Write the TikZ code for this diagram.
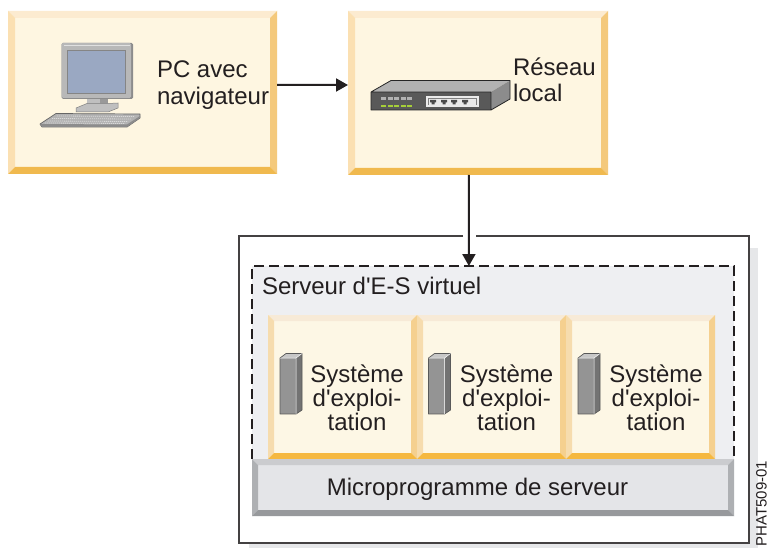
\documentclass[tikz,border=0pt]{standalone}
\usepackage{fontspec}
\setmainfont{Liberation Sans}
\usetikzlibrary{arrows.meta,calc}
\definecolor{ink}{HTML}{231F20}
\definecolor{face}{HTML}{FEF6E1}
\definecolor{ftop}{HTML}{FCEBD0}
\definecolor{fleft}{HTML}{FBE0B2}
\definecolor{fright}{HTML}{F4C97C}
\definecolor{fbot}{HTML}{F0B94E}
\definecolor{osface}{HTML}{FDF7E5}
\definecolor{ostop}{HTML}{F7EAD7}
\definecolor{osleft}{HTML}{F6DCAE}
\definecolor{osright}{HTML}{F5D08F}
\definecolor{osbot}{HTML}{F5B840}
\definecolor{mface}{HTML}{E4E5E8}
\definecolor{mtop}{HTML}{CBCCCF}
\definecolor{mleft}{HTML}{AEB0B3}
\definecolor{mbot}{HTML}{97999C}
\definecolor{viosfill}{HTML}{EEEFF2}
\definecolor{shadowgrey}{HTML}{E6E7E9}
\definecolor{screenblue}{HTML}{9AA8C2}
\definecolor{led}{HTML}{A6CE39}
\tikzset{
  x=1pt,y=-1pt,
  plain/.style={inner sep=0pt,outer sep=0pt,draw=none},
  lbl/.style={plain,text=ink,font=\fontsize{24}{24}\selectfont},
  lblb/.style={lbl,anchor=base west},
  oslbl/.style={lbl,align=center,anchor=center},
  conn/.style={draw=ink,line width=2pt,-{Triangle[length=12pt,width=13pt]}},
}
% name, x0, y0, x1, y1, bevel, face, top, left, right, bottom
\newcommand{\bevelbox}[9]{%
  \def\bA{#2}\def\bB{#3}\def\bC{#4}\def\bD{#5}\def\bE{#6}\def\bF{#7}\def\bG{#8}\def\bH{#9}\bevelboxB{#1}}
\newcommand{\bevelboxB}[3]{%
  \node[plain,fill=\bF,anchor=north west,minimum width={(\bC-\bA)*1pt},minimum height={(\bD-\bB)*1pt}] (#1) at (\bA,\bB) {};
  \fill[\bG] (\bA,\bB) -- (\bC,\bB) -- (\bC-\bE,\bB+\bE) -- (\bA+\bE,\bB+\bE) -- cycle;
  \fill[\bH] (\bA,\bB) -- (\bA+\bE,\bB+\bE) -- (\bA+\bE,\bD-\bE) -- (\bA,\bD) -- cycle;
  \fill[#2] (\bC,\bB) -- (\bC-\bE,\bB+\bE) -- (\bC-\bE,\bD-\bE) -- (\bC,\bD) -- cycle;
  \fill[#3] (\bA,\bD) -- (\bA+\bE,\bD-\bE) -- (\bC-\bE,\bD-\bE) -- (\bC,\bD) -- cycle;
}
\newcommand{\tower}[1]{%
  \begin{scope}[shift={(#1,0)}]
    \fill[black!22] (0,358) -- (6,353.5) -- (22,353.5) -- (16,358) -- cycle;
    \fill[black!55] (16,358) -- (22,353.5) -- (22,410) -- (16,414) -- cycle;
    \fill[black!42] (0,358) rectangle (16,414);
    \draw[black!65,line width=.7pt,line join=round] (0,358) -- (6,353.5) -- (22,353.5) -- (22,410) -- (16,414) -- (0,414) -- cycle;
    \draw[white,line width=.5pt] (16,358) -- (16,414) (0,358) -- (16,358) -- (22,353.5);
  \end{scope}}
\begin{document}
\begin{tikzpicture}
\useasboundingbox (0,0) rectangle (770,548);
\fill[white] (0,0) rectangle (770,548);

% shadow and server frame
\fill[shadowgrey] (249,248) rectangle (758,548);
\node[plain,fill=white,anchor=north west,minimum width=510pt,minimum height=307pt] (server) at (239,236) {};
\draw[ink!85,line width=1.2pt] (463,236) -- (239,236) -- (239,543) -- (749,543) -- (749,236) -- (476,236);

% virtual I/O server zone
\node[plain,anchor=north west,fill=viosfill,minimum width=482pt,minimum height=193pt] (viosz) at (252,266) {};
\draw[ink,line width=1.6pt,dash pattern=on 10pt off 5pt] (viosz.south west) -- (viosz.north west) -- (viosz.north east) -- (viosz.south east);

% top boxes
\bevelbox{pc}{8}{11}{277}{174}{7}{face}{ftop}{fleft}{fright}{fbot}
\bevelbox{lan}{348}{11}{608}{175}{7}{face}{ftop}{fleft}{fright}{fbot}

% OS boxes
\bevelbox{osa}{268}{315}{417}{459}{6}{osface}{ostop}{osleft}{osright}{osbot}
\bevelbox{osb}{417}{315}{566}{459}{6}{osface}{ostop}{osleft}{osright}{osbot}
\bevelbox{osc}{566}{315}{715}{459}{6}{osface}{ostop}{osleft}{osright}{osbot}

% firmware bar
\bevelbox{fw}{252}{459}{734}{516}{6}{mface}{mtop}{mleft}{mleft}{mbot}

% monitor
\fill[black!45,rounded corners=1.5pt] (61.5,43) rectangle (133,99);
\fill[black!28,rounded corners=1.5pt] (61.5,43) rectangle (131,98);
\fill[black!12] (64,45) rectangle (130,46.5);
\fill[black!48] (67,50) rectangle (125.5,94.5);
\fill[screenblue] (68,51) rectangle (124.5,93.5);
\fill[black!40] (87,99) rectangle (108,108);
\fill[black!25] (87,99) rectangle (100,107);
\fill[black!25,draw=black!50,line width=.5pt] (76,108) -- (87,103.5) -- (108,103.5) -- (118,103) -- (118,108) -- (108,112) -- (76,112) -- cycle;
% keyboard
\fill[black!30,draw=black!60,line width=.7pt,line join=round] (40,124) -- (56,113.5) -- (140,114) -- (140,118) -- (127,127) -- (42,127) -- cycle;
\fill[black!45] (40,124) -- (127,124.5) -- (140,116) -- (140,118) -- (127,127) -- (42,127) -- cycle;
\draw[white!85!black,line width=.8pt,dash pattern=on 1.2pt off .8pt] (57,116) -- (134,116.5) (52,118.5) -- (131,119) (48,121) -- (128,121.5) (45,123) -- (125,123.5);

% network switch
\fill[black!30] (371,92) -- (391,80.5) -- (510,80.5) -- (491,92) -- cycle;
\fill[black!45] (491,92) -- (510,80.5) -- (510,99) -- (491,110) -- cycle;
\fill[black!65] (371,92) rectangle (491,110);
\draw[black!85,line width=.8pt,line join=round] (371,110) -- (371,92) -- (391,80.5) -- (510,80.5) -- (510,99) -- (491,110) -- cycle (371,92) -- (491,92) -- (491,110);
\fill[black!8] (426,96) rectangle (479,107.5);
\fill[black!50] (428,98) rectangle (477,105.5);
\fill[black!8] (429,99) rectangle (476,105);
\foreach \px in {433,444,454,465}{\fill[black!70] (\px-3,100) rectangle (\px+3,102.5) (\px-1.5,102.5) rectangle (\px+1.5,104.5);}
\foreach \lx in {381,387.5,394,400.5,407}{
  \fill[black!30] (\lx,97) rectangle (\lx+5,100.5);
  \fill[led] (\lx,105) rectangle (\lx+5,107.5);
}

% towers
\tower{280}\tower{428.5}\tower{578}

% text
\node[lblb] (pca) at (157,78) {PC avec};
\node[lblb] (pcb) at (157,105) {navigateur};
\node[lblb] (lana) at (513,76) {Réseau};
\node[lblb] (lanb) at (513,102) {local};
\node[lblb] (vlab) at (262,294) {Serveur d\textquotesingle E-S virtuel};
\node[oslbl] (ta) at (357,398) {Système\\d\textquotesingle exploi-\\tation};
\node[oslbl] (tb) at (506.5,398) {Système\\d\textquotesingle exploi-\\tation};
\node[oslbl] (tc) at (656,398) {Système\\d\textquotesingle exploi-\\tation};
\node[lbl,anchor=base] (fwl) at (477.5,495) {Microprogramme de serveur};
\node[plain,text=ink,font=\fontsize{15}{15}\selectfont,rotate=90,anchor=base west] (ref) at (766.5,546.5) {PHAT509-01};

% connectors
\draw[conn] ($(pc.north east)!0.454!(pc.south east)$) -- ($(lan.north west)!0.4512!(lan.south west)$);
\draw[conn] ($(lan.south west)!0.465!(lan.south east)$) -- ($(viosz.north west)!0.45!(viosz.north east)$);
\end{tikzpicture}
\end{document}
